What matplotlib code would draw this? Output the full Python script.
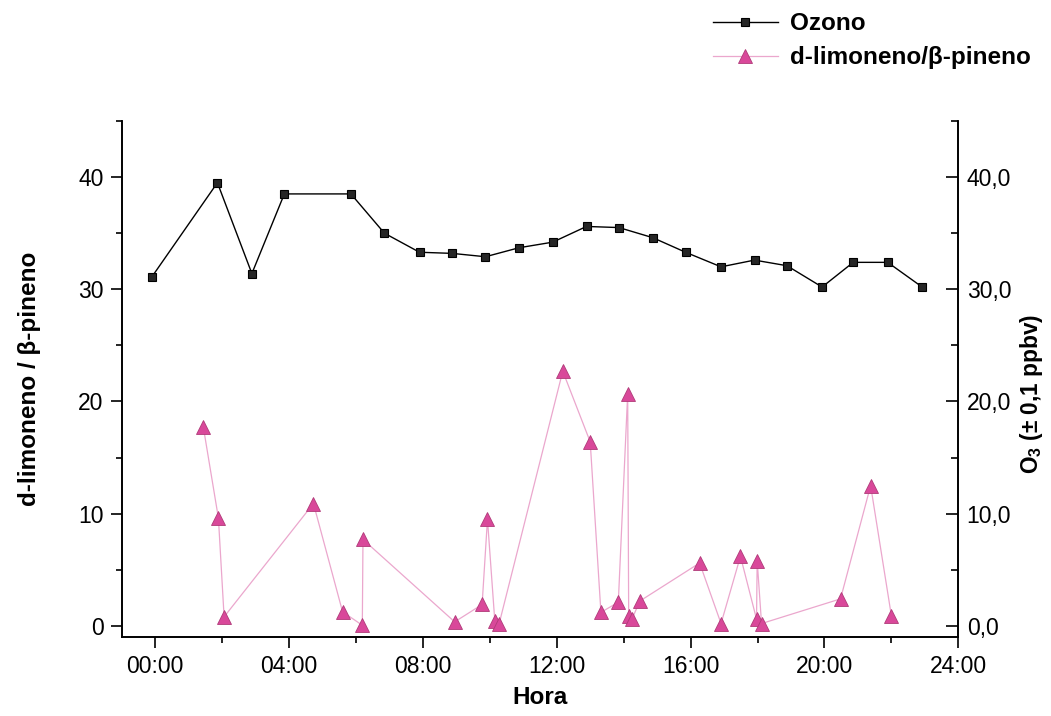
import matplotlib
matplotlib.use("Agg")
import matplotlib.pyplot as plt
from matplotlib.ticker import MultipleLocator, FixedLocator

plt.rcParams['font.family'] = ['Liberation Sans', 'DejaVu Sans']
plt.rcParams['mathtext.fontset'] = 'custom'
plt.rcParams['mathtext.rm'] = 'Liberation Sans'
plt.rcParams['mathtext.bf'] = 'Liberation Sans:bold'

# ozone, roughly hourly (hours since 00:00)
hora_o3 = [-0.1, 1.86, 2.89, 3.86, 5.85, 6.85, 7.9, 8.87, 9.87, 10.87, 11.88,
           12.89, 13.86, 14.87, 15.85, 16.91, 17.91, 18.88, 19.93, 20.86, 21.89, 22.92]
ozono = [31.1, 39.5, 31.4, 38.5, 38.5, 35.0, 33.3, 33.2, 32.9, 33.7, 34.2,
         35.6, 35.5, 34.6, 33.3, 32.0, 32.6, 32.1, 30.2, 32.4, 32.4, 30.2]

# d-limonene / beta-pinene ratio
hora_ratio = [1.44, 1.89, 2.06, 4.73, 5.60, 6.19, 6.21, 8.95, 9.77, 9.93, 10.15, 10.28,
              12.18, 13.0, 13.32, 13.84, 14.12, 14.15, 14.25, 14.48,
              16.27, 16.91, 17.49, 17.97, 17.99, 18.12, 20.48, 21.38, 22.0]
ratio = [17.7, 9.6, 0.8, 10.9, 1.25, 0.05, 7.7, 0.35, 1.9, 9.5, 0.4, 0.2,
         22.7, 16.4, 1.2, 2.1, 20.7, 0.9, 0.6, 2.2,
         5.6, 0.2, 6.2, 0.6, 5.8, 0.2, 2.4, 12.5, 0.9]

hour_ticks = [0, 4, 8, 12, 16, 20, 24]
hour_labels = ['00:00', '04:00', '08:00', '12:00', '16:00', '20:00', '24:00']
o3_ticks = [0, 10, 20, 30, 40]
o3_labels = ['0,0', '10,0', '20,0', '30,0', '40,0']

fig = plt.figure(figsize=(10.51, 7.16), dpi=100)
ax = fig.add_axes([0.1158, 0.1103, 0.796, 0.7207])
ax2 = ax.twinx()

l_ratio, = ax.plot(hora_ratio, ratio, color='#eba7cd', lw=0.9, marker='^', ms=10.5,
                   mfc='#d9489a', mec='#b03a78', mew=0.6, label='d-limoneno/β-pineno')
l_o3, = ax2.plot(hora_o3, ozono, color='black', lw=1.0, marker='s', ms=6.2,
                 mfc='#262626', mec='black', mew=0.8, label='Ozono')

ax.set_xlim(-1, 24)
ax.set_ylim(-1, 45)
ax2.set_ylim(-1, 45)

for a in (ax, ax2):
    a.spines['top'].set_visible(False)
    for s in ('left', 'right', 'bottom'):
        a.spines[s].set_linewidth(1.2)

ax.xaxis.set_major_locator(FixedLocator(hour_ticks))
ax.set_xticklabels(hour_labels)
ax.xaxis.set_minor_locator(MultipleLocator(2))
ax.yaxis.set_major_locator(MultipleLocator(10))
ax.yaxis.set_minor_locator(MultipleLocator(5))
ax.tick_params(which='major', direction='out', length=8, width=1.2, labelsize=16.5, pad=5)
ax.tick_params(which='minor', direction='out', length=4, width=1.2)

ax2.yaxis.set_major_locator(FixedLocator(o3_ticks))
ax2.set_yticklabels(o3_labels)
ax2.yaxis.set_minor_locator(MultipleLocator(5))
ax2.tick_params(axis='y', which='major', direction='in', length=9, width=1.2, labelsize=16.5, pad=6)
ax2.tick_params(axis='y', which='minor', direction='in', length=5, width=1.2)

ax.set_xlabel('Hora', fontsize=17.5, fontweight='bold', labelpad=6)
ax.set_ylabel('d-limoneno / β-pineno', fontsize=17.5, fontweight='bold', labelpad=27)
ax2.set_ylabel('O$_\\mathbf{3}$ (± 0,1 ppbv)', fontsize=16.3, fontweight='bold')
ax2.yaxis.set_label_coords(1.071, 0.47)

fig.legend([l_o3, l_ratio], ['Ozono', 'd-limoneno/β-pineno'], loc='upper left',
           bbox_to_anchor=(0.678, 0.983), frameon=False,
           prop={'weight': 'bold', 'size': 17.5}, handlelength=2.7,
           handletextpad=0.5, labelspacing=0.45, borderaxespad=0, borderpad=0)

fig.savefig('out.png', dpi=100)
